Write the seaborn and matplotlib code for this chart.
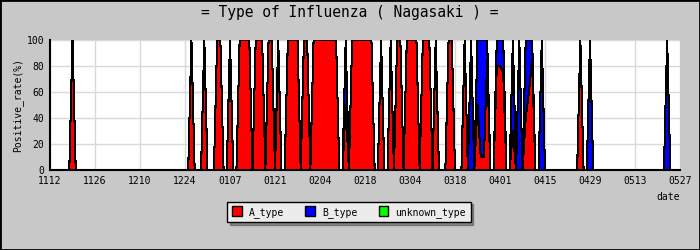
"""Type of influenza (Nagasaki): daily positive rate by type, stacked area."""

import matplotlib
matplotlib.use("Agg")
import matplotlib.pyplot as plt
from matplotlib.patches import Patch, Rectangle
import numpy as np
import pandas as pd
import seaborn as sns

start_date = "2010-11-12"
end_date = "2011-05-27"

# report days (MMDD) and the share of each type on that day, in %
report_dates = [
    "1119", "1226", "1230", "0103", "0104", "0107", "0110", "0111", "0112", "0113",
    "0115", "0116", "0117", "0119", "0120", "0122", "0125", "0126", "0127", "0128",
    "0130", "0131", "0202", "0203", "0204", "0205", "0206", "0207", "0208", "0209",
    "0212", "0214", "0215", "0216", "0217", "0218", "0219", "0220", "0223", "0226",
    "0228", "0301", "0303", "0304", "0305", "0306", "0308", "0309", "0310", "0312",
    "0316", "0317", "0321", "0323", "0325", "0326", "0327", "0328", "0331", "0401",
    "0402", "0405", "0407", "0409", "0410", "0411", "0414", "0426", "0429", "0523",
]
a_type = [
    100, 100, 100, 100, 100, 100, 100, 100, 100, 100,
    100, 100, 100, 100, 100, 100, 100, 100, 100, 100,
    100, 100, 100, 100, 100, 100, 100, 100, 100, 100,
    50, 100, 100, 100, 100, 100, 100, 100, 100, 100,
    100, 100, 100, 100, 100, 100, 100, 100, 100, 100,
    100, 100, 100, 0, 50, 10, 10, 85, 80, 80,
    75, 30, 0, 40, 60, 85, 0, 100, 0, 0,
]
b_type = [
    0, 0, 0, 0, 0, 0, 0, 0, 0, 0,
    0, 0, 0, 0, 0, 0, 0, 0, 0, 0,
    0, 0, 0, 0, 0, 0, 0, 0, 0, 0,
    50, 0, 0, 0, 0, 0, 0, 0, 0, 0,
    0, 0, 0, 0, 0, 0, 0, 0, 0, 0,
    0, 0, 0, 100, 50, 90, 90, 15, 20, 20,
    25, 70, 100, 60, 40, 15, 100, 0, 100, 100,
]
unknown_type = [
    0, 0, 0, 0, 0, 0, 0, 0, 0, 0,
    0, 0, 0, 0, 0, 0, 0, 0, 0, 0,
    0, 0, 0, 0, 0, 0, 0, 0, 0, 0,
    0, 0, 0, 0, 0, 0, 0, 0, 0, 0,
    0, 0, 0, 0, 0, 0, 0, 0, 0, 0,
    0, 0, 0, 0, 0, 0, 0, 0, 0, 0,
    0, 0, 0, 0, 0, 0, 0, 0, 0, 0,
]

type_names = ["A_type", "B_type", "unknown_type"]
type_colors = ["#ff0000", "#0000ff", "#00ff00"]


def to_date(mmdd):
    year = 2010 if int(mmdd[:2]) >= 11 else 2011
    return pd.Timestamp(f"{year}-{mmdd[:2]}-{mmdd[2:]}")


# daily frame, days without reports are 0
reports = pd.DataFrame(
    {"A_type": a_type, "B_type": b_type, "unknown_type": unknown_type},
    index=[to_date(d) for d in report_dates],
)
days = pd.date_range(start_date, end_date, freq="D")
daily = reports.reindex(days, fill_value=0)
daily["day"] = (daily.index - days[0]).days

cum = daily[type_names].cumsum(axis=1)
long = cum.assign(day=daily["day"]).melt(id_vars="day", var_name="layer", value_name="value")

sns.set_style("white")
plt.rcParams["font.family"] = ["DejaVu Sans Mono", "DejaVu Sans"]
plt.rcParams["text.color"] = "black"
plt.rcParams["axes.labelcolor"] = "black"
plt.rcParams["xtick.color"] = "black"
plt.rcParams["ytick.color"] = "black"

fig = plt.figure(figsize=(7, 2.5), dpi=100, facecolor="#c8c8c8")
ax = fig.add_axes([50 / 700, 80 / 250, 630 / 700, 130 / 250])
ax.set_facecolor("white")

x = daily["day"].to_numpy()
lower = np.zeros(len(x))
for name, color in zip(type_names, type_colors):
    upper = cum[name].to_numpy()
    ax.fill_between(x, lower, upper, color=color, lw=0, antialiased=False, zorder=2)
    lower = upper

sns.lineplot(
    data=long, x="day", y="value", units="layer", estimator=None,
    color="black", lw=0.75, antialiased=False, ax=ax, zorder=3,
)

tick_days = np.arange(0, len(days), 14)
ax.set_xticks(tick_days)
ax.set_xticklabels([days[d].strftime("%m%d") for d in tick_days], fontsize=7)
ax.set_yticks(np.arange(0, 101, 20))
ax.set_yticks(np.arange(0, 101, 10), minor=True)
ax.tick_params(axis="y", labelsize=7)
ax.tick_params(axis="both", which="both", direction="in", length=3, width=1, color="black", pad=4)
ax.set_xlim(0, len(days) - 1)
ax.set_ylim(0, 100)
ax.grid(True, which="major", color="#d9d9d9", lw=1, zorder=0)
ax.set_axisbelow(True)

for side in ["top", "right"]:
    ax.spines[side].set_visible(False)
for side in ["left", "bottom"]:
    ax.spines[side].set_color("black")
    ax.spines[side].set_linewidth(1.5)
    ax.spines[side].set_zorder(4)

ax.set_xlabel("")
ax.set_ylabel("Positive_rate(%)", fontsize=7, labelpad=3)
fig.text(680 / 700, 1 - 197 / 250, "date", ha="right", va="center", fontsize=7)
fig.text(0.5, 1 - 13 / 250, "= Type of Influenza ( Nagasaki ) =", ha="center", va="center", fontsize=10.5)

handles = [Patch(facecolor=c, edgecolor="black", lw=1) for c in type_colors]
leg = fig.legend(
    handles, type_names, loc="center", bbox_to_anchor=(349 / 700, 1 - 212 / 250),
    ncol=3, fontsize=7, frameon=True, fancybox=False, shadow=True,
    facecolor="#ececec", edgecolor="black", framealpha=1,
    handlelength=1.0, handleheight=1.2, handletextpad=0.7, columnspacing=2.2,
    borderpad=0.5,
)
leg.get_frame().set_linewidth(1)

fig.patches.append(Rectangle((0, 0), 1, 1, transform=fig.transFigure, fill=False, ec="black", lw=2))

plt.savefig("out.png", dpi=100, facecolor=fig.get_facecolor())
plt.close()
